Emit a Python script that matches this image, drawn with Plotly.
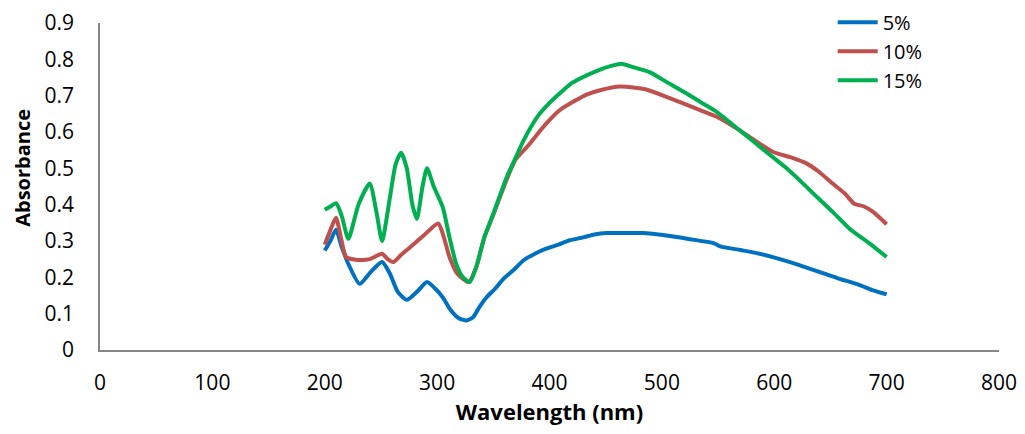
import plotly.graph_objects as go

# ---- data ----
wl_15 = [200, 205, 210, 215, 221, 230, 240, 246, 251, 258, 263, 268, 273, 278, 282, 287, 291, 297,
         305, 311, 317, 323, 329, 335, 342, 350, 362, 370, 377, 389, 400, 409, 420, 433, 445, 455,
         464, 475, 489, 504, 522, 534, 549, 569, 593, 611, 625, 638, 652, 667, 685, 700]
abs_15 = [0.386, 0.395, 0.404, 0.37, 0.306, 0.40, 0.458, 0.38, 0.30, 0.42, 0.51, 0.543, 0.50, 0.40,
          0.361, 0.45, 0.50, 0.45, 0.393, 0.31, 0.237, 0.20, 0.187, 0.23, 0.31, 0.375, 0.476, 0.53,
          0.577, 0.641, 0.68, 0.706, 0.735, 0.756, 0.772, 0.782, 0.788, 0.778, 0.765, 0.738, 0.706,
          0.683, 0.655, 0.605, 0.545, 0.50, 0.46, 0.421, 0.38, 0.334, 0.293, 0.256]

wl_10 = [200, 205, 210, 215, 219, 230, 240, 251, 256, 261, 268, 276, 288, 301, 306, 311, 318, 328,
         335, 342, 350, 362, 370, 380, 397, 409, 421, 433, 445, 463, 486, 504, 534, 550, 569, 585,
         599, 615, 629, 640, 652, 663, 671, 680, 688, 700]
abs_10 = [0.29, 0.33, 0.364, 0.30, 0.256, 0.248, 0.25, 0.265, 0.25, 0.242, 0.262, 0.283, 0.315, 0.348,
          0.31, 0.256, 0.21, 0.187, 0.23, 0.31, 0.372, 0.47, 0.525, 0.559, 0.623, 0.66, 0.683, 0.703,
          0.715, 0.725, 0.717, 0.697, 0.66, 0.64, 0.605, 0.572, 0.545, 0.53, 0.513, 0.49, 0.458, 0.43,
          0.403, 0.395, 0.38, 0.346]

wl_5 = [200, 205, 210, 215, 221, 231, 241, 251, 258, 265, 273, 282, 291, 298, 305, 312, 319, 326,
        332, 338, 344, 352, 359, 368, 377, 387, 397, 408, 418, 430, 440, 451, 465, 483, 504, 525,
        546, 552, 570, 587, 605, 623, 640, 658, 675, 688, 700]
abs_5 = [0.274, 0.30, 0.331, 0.285, 0.237, 0.182, 0.215, 0.242, 0.21, 0.16, 0.138, 0.16, 0.187, 0.17,
         0.145, 0.11, 0.088, 0.081, 0.09, 0.12, 0.145, 0.17, 0.196, 0.22, 0.247, 0.265, 0.279, 0.29,
         0.302, 0.31, 0.318, 0.322, 0.322, 0.322, 0.315, 0.305, 0.294, 0.285, 0.275, 0.265, 0.25,
         0.233, 0.215, 0.196, 0.18, 0.164, 0.153]

series_names = ["5%", "10%", "15%"]
series_colors = ["#0070C0", "#C0504D", "#00B050"]

x_ticks = [0, 100, 200, 300, 400, 500, 600, 700, 800]
y_ticks = [0, 0.1, 0.2, 0.3, 0.4, 0.5, 0.6, 0.7, 0.8, 0.9]
y_tick_labels = ["0", "0.1", "0.2", "0.3", "0.4", "0.5", "0.6", "0.7", "0.8", "0.9"]

FONT = "Open Sans"

fig = go.Figure()
for name, color, xs, ys in zip(series_names, series_colors,
                               [wl_5, wl_10, wl_15], [abs_5, abs_10, abs_15]):
    fig.add_trace(go.Scatter(x=xs, y=ys, mode="lines", name=name,
                             line=dict(color=color, width=4, shape="spline", smoothing=0.6)))

# page body has an 8px default margin, so the figure is 8px smaller than the window
fig.update_layout(
    width=1017, height=426,
    margin=dict(l=92, r=26, t=15, b=84, autoexpand=False),
    paper_bgcolor="white", plot_bgcolor="white",
    font=dict(family=FONT, color="#000000", size=21),
    showlegend=True,
    legend=dict(x=0.815, y=1.062, xanchor="left", yanchor="top",
                font=dict(family=FONT, size=20, color="#000000"),
                bgcolor="rgba(0,0,0,0)", tracegroupgap=0, itemwidth=40),
    annotations=[dict(text="<b>Absorbance</b>", textangle=-90, showarrow=False,
                      xref="paper", yref="paper", x=-0.0857, y=0.557,
                      xanchor="center", yanchor="middle",
                      font=dict(family=FONT, size=20, color="#000000"))],
)
fig.update_xaxes(range=[0, 800], tickvals=x_ticks, showgrid=False, zeroline=False,
                 showline=True, linecolor="#868686", linewidth=1.5, ticks="",
                 ticklabelstandoff=13, automargin=False,
                 tickfont=dict(family=FONT, size=21),
                 title=dict(text="<b>Wavelength (nm)</b>", font=dict(family=FONT, size=22),
                            standoff=4))
fig.update_yaxes(range=[0, 0.9], tickvals=y_ticks, ticktext=y_tick_labels, showgrid=False,
                 zeroline=False, showline=True, linecolor="#868686", linewidth=1.5, ticks="",
                 ticklabelstandoff=20, automargin=False,
                 tickfont=dict(family=FONT, size=21))

fig.write_html("out.html")
